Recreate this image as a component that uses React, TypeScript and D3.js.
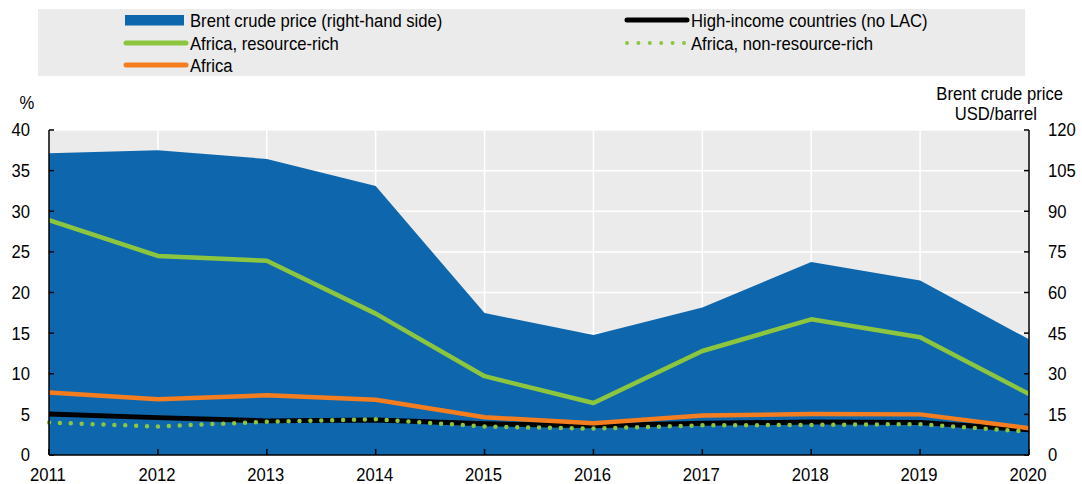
import React from 'react';
import * as d3 from 'd3';

const years = [2011, 2012, 2013, 2014, 2015, 2016, 2017, 2018, 2019, 2020];
const brent = [111.4, 112.5, 109.3, 99.3, 52.4, 44.3, 54.5, 71.3, 64.4, 42.7];
const highIncome = [5.05, 4.6, 4.2, 4.3, 3.85, 3.6, 3.9, 4.05, 4.0, 3.1];
const resourceRich = [28.9, 24.5, 23.9, 17.4, 9.7, 6.4, 12.8, 16.7, 14.5, 7.5];
const nonResourceRich = [4.0, 3.5, 4.1, 4.4, 3.5, 3.25, 3.65, 3.7, 3.8, 2.85];
const africa = [7.7, 6.85, 7.35, 6.8, 4.65, 3.9, 4.85, 5.05, 5.0, 3.3];
const leftTicks = [0, 5, 10, 15, 20, 25, 30, 35, 40];
const rightTicks = [0, 15, 30, 45, 60, 75, 90, 105, 120];

const BLUE = '#0e67ad';
const GREEN = '#8cc63f';
const ORANGE = '#f47d20';
const BG = '#ebebeb';
const FONT = 'Liberation Sans, Arial, sans-serif';
const FS = 18.5;

// text slightly condensed like the original
function T({ x, y, anchor = 'start', dy, children }: any) {
  return (
    <text transform={`translate(${x},${y}) scale(0.9,1)`} textAnchor={anchor} dy={dy}
      fontSize={FS} fill="#000">{children}</text>
  );
}

export default function App() {
  const width = 1082;
  const height = 484;
  const left = 49;
  const right = 1029;
  const top = 130;
  const bottom = 455;

  const x = d3.scaleLinear().domain([2011, 2020]).range([left, right]);
  const yL = d3.scaleLinear().domain([0, 40]).range([bottom, top]);
  const yR = d3.scaleLinear().domain([0, 120]).range([bottom, top]);

  const area = d3.area<number>()
    .x((_, i) => x(years[i]))
    .y0(bottom)
    .y1(d => yR(d));
  const line = d3.line<number>()
    .x((_, i) => x(years[i]))
    .y(d => yL(d));

  const series = [
    { vals: highIncome, color: '#000', w: 5, dash: null },
    { vals: resourceRich, color: GREEN, w: 4.5, dash: null },
    { vals: africa, color: ORANGE, w: 4.5, dash: null },
    { vals: nonResourceRich, color: GREEN, w: 4.5, dash: '0 10.9' },
  ];

  const legendRows = [
    { x: 125, y: 20, label: 'Brent crude price (right-hand side)', type: 'rect', color: BLUE },
    { x: 125, y: 43, label: 'Africa, resource-rich', type: 'line', color: GREEN },
    { x: 125, y: 65, label: 'Africa', type: 'line', color: ORANGE },
    { x: 626, y: 20, label: 'High-income countries (no LAC)', type: 'line', color: '#000' },
    { x: 626, y: 43, label: 'Africa, non-resource-rich', type: 'dot', color: GREEN },
  ];

  return (
    <svg width={width} height={height} style={{ position: 'absolute', left: 0, top: 0 }} fontFamily={FONT}>
      <rect x={38} y={9} width={987} height={67} fill={BG} />
      {legendRows.map(r => (
        <g key={r.label}>
          {r.type === 'rect' && <rect x={r.x} y={r.y - 5} width={59} height={10.5} fill={r.color} />}
          {r.type === 'line' && (
            <line x1={r.x + 1} x2={r.x + 61} y1={r.y} y2={r.y} stroke={r.color} strokeWidth={5} strokeLinecap="round" />
          )}
          {r.type === 'dot' && (
            <line x1={r.x + 1} x2={r.x + 60} y1={r.y} y2={r.y} stroke={r.color} strokeWidth={4}
              strokeLinecap="round" strokeDasharray="0 11.4" />
          )}
          <T x={r.x + 65} y={r.y + 6.5}>{r.label}</T>
        </g>
      ))}

      <rect x={left} y={top} width={right - left} height={bottom - top} fill={BG} />
      {leftTicks.map(t => (
        <line key={'h' + t} x1={left} x2={right} y1={yL(t)} y2={yL(t)} stroke="#fff" strokeWidth={1.5} />
      ))}
      {years.map(yr => (
        <line key={'v' + yr} x1={x(yr)} x2={x(yr)} y1={top} y2={bottom} stroke="#fff" strokeWidth={1.5} />
      ))}

      <path d={area(brent) || ''} fill={BLUE} />

      {series.map((s, i) => (
        <path key={i} d={line(s.vals) || ''} fill="none" stroke={s.color} strokeWidth={s.w}
          strokeLinejoin="round" strokeLinecap={s.dash ? 'round' : 'butt'}
          strokeDasharray={s.dash || undefined} />
      ))}

      {/* axes */}
      <line x1={left} x2={left} y1={top} y2={bottom} stroke="#000" strokeWidth={1.5} />
      <line x1={right} x2={right} y1={top} y2={bottom} stroke="#000" strokeWidth={1.5} />
      <line x1={left} x2={right} y1={bottom} y2={bottom} stroke="#000" strokeWidth={1.5} />
      {leftTicks.map(t => (
        <g key={'lt' + t}>
          <line x1={left} x2={left + 5} y1={yL(t)} y2={yL(t)} stroke="#000" strokeWidth={1.5} />
          <T x={30} y={yL(t)} dy="0.35em" anchor="end">{t}</T>
        </g>
      ))}
      {rightTicks.map(t => (
        <g key={'rt' + t}>
          <line x1={right - 5} x2={right} y1={yR(t)} y2={yR(t)} stroke="#000" strokeWidth={1.5} />
          <T x={1048} y={yR(t)} dy="0.35em">{t}</T>
        </g>
      ))}
      {years.map(yr => (
        <g key={'xt' + yr}>
          <line x1={x(yr)} x2={x(yr)} y1={bottom - 6} y2={bottom} stroke="#000" strokeWidth={1.5} />
          <T x={x(yr) - 1} y={481} anchor="middle">{yr}</T>
        </g>
      ))}

      <T x={27} y={109} anchor="middle">%</T>
      <T x={1063} y={100} anchor="end">Brent crude price</T>
      <T x={1037} y={120} anchor="end">USD/barrel</T>
    </svg>
  );
}
